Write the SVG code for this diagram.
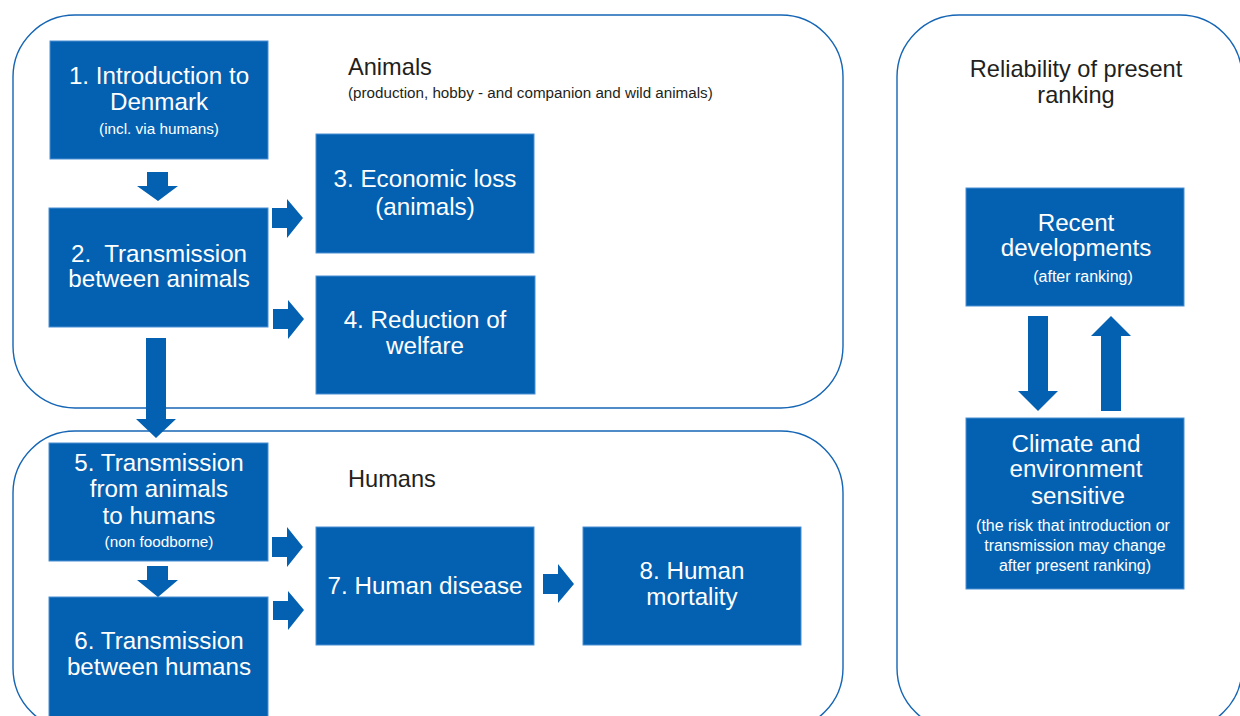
<svg xmlns="http://www.w3.org/2000/svg" width="1240" height="716" viewBox="0 0 1240 716">
<style>
.panel{fill:none;stroke:#1565b5;stroke-width:1.4}
.box{fill:#0461b1;stroke:#4a90d4;stroke-width:1}
.arr{fill:#0461b1}
.t{font-family:"Liberation Sans",Arial,sans-serif;fill:#ffffff;text-anchor:middle;font-size:24.2px}
.s{font-family:"Liberation Sans",Arial,sans-serif;fill:#ffffff;text-anchor:middle;font-size:15.3px}
.s2{font-family:"Liberation Sans",Arial,sans-serif;fill:#ffffff;text-anchor:middle;font-size:16px}
.h{font-family:"Liberation Sans",Arial,sans-serif;fill:#231f20;font-size:23.6px}
.hs{font-family:"Liberation Sans",Arial,sans-serif;fill:#231f20;font-size:15.2px}
</style>
<rect width="1240" height="716" fill="#ffffff"/>
<g id="panels">
<rect class="panel" x="13" y="15" width="830" height="393" rx="62" ry="62"/>
<rect class="panel" x="13" y="431" width="830" height="299" rx="62" ry="62"/>
<rect class="panel" x="897" y="15" width="345" height="715" rx="62" ry="62"/>
<text class="h" x="348" y="75">Animals</text>
<text class="hs" x="348" y="98">(production, hobby - and companion and wild animals)</text>
<text class="h" x="348" y="487">Humans</text>
<text class="h" x="1076" y="77" text-anchor="middle">Reliability of present</text>
<text class="h" x="1076" y="103" text-anchor="middle">ranking</text>
</g>
<g id="n1"><rect class="box" x="50" y="41" width="218" height="118"/>
<text class="t" x="159" y="84">1. Introduction to</text><text class="t" x="159" y="110">Denmark</text><text class="s" x="159" y="134">(incl. via humans)</text></g>
<g id="n2"><rect class="box" x="49" y="208" width="219" height="119"/>
<text class="t" x="159" y="262" xml:space="preserve">2.  Transmission</text><text class="t" x="159" y="287">between animals</text></g>
<g id="n3"><rect class="box" x="316" y="134" width="218" height="119"/>
<text class="t" x="425" y="187">3. Economic loss</text><text class="t" x="425" y="215">(animals)</text></g>
<g id="n4"><rect class="box" x="316" y="276" width="219" height="118"/>
<text class="t" x="425" y="328">4. Reduction of</text><text class="t" x="425" y="354">welfare</text></g>
<g id="n5"><rect class="box" x="49" y="443" width="219" height="118"/>
<text class="t" x="159" y="471">5. Transmission</text><text class="t" x="159" y="497">from animals</text><text class="t" x="159" y="524">to humans</text><text class="s" x="159" y="547">(non foodborne)</text></g>
<g id="n6"><rect class="box" x="49" y="597" width="219" height="125"/>
<text class="t" x="159" y="649">6. Transmission</text><text class="t" x="159" y="675">between humans</text></g>
<g id="n7"><rect class="box" x="316" y="527" width="218" height="118"/>
<text class="t" x="425" y="594">7. Human disease</text></g>
<g id="n8"><rect class="box" x="583" y="527" width="218" height="118"/>
<text class="t" x="692" y="579">8. Human</text><text class="t" x="692" y="605">mortality</text></g>
<g id="n9"><rect class="box" x="966" y="188" width="218" height="118"/>
<text class="t" x="1076" y="231">Recent</text><text class="t" x="1076" y="256">developments</text><text class="s2" x="1083" y="282">(after ranking)</text></g>
<g id="n10"><rect class="box" x="966" y="418" width="218" height="171"/>
<text class="t" x="1076" y="452">Climate and</text><text class="t" x="1076" y="477">environment</text><text class="t" x="1078" y="504">sensitive</text>
<text class="s2" x="1073" y="531">(the risk that introduction or</text><text class="s2" x="1075" y="551">transmission may change</text><text class="s2" x="1075" y="571">after present ranking)</text></g>
<g id="connectors">
<polygon class="arr" points="147,172 168,172 168,186 178,186 158,201 137,186 147,186"/>
<polygon class="arr" points="272,208 287,208 287,199 303,218 287,238 287,228 272,228"/>
<polygon class="arr" points="273,309 288,309 288,300 304,319 288,339 288,329 273,329"/>
<polygon class="arr" points="146,338 166,338 166,419 176,419 156,438 136,419 146,419"/>
<polygon class="arr" points="147,566 168,566 168,580 178,580 158,597 137,580 147,580"/>
<polygon class="arr" points="272,537 287,537 287,527 303,547 287,567 287,557 272,557"/>
<polygon class="arr" points="273,601 288,601 288,591 304,610 288,630 288,620 273,620"/>
<polygon class="arr" points="543,574 558,574 558,564 574,584 558,603 558,594 543,594"/>
<polygon class="arr" points="1028,316 1048,316 1048,391 1058,391 1038,411 1018,391 1028,391"/>
<polygon class="arr" points="1101,411 1121,411 1121,336 1131,336 1111,316 1091,336 1101,336"/>
</g>
</svg>
